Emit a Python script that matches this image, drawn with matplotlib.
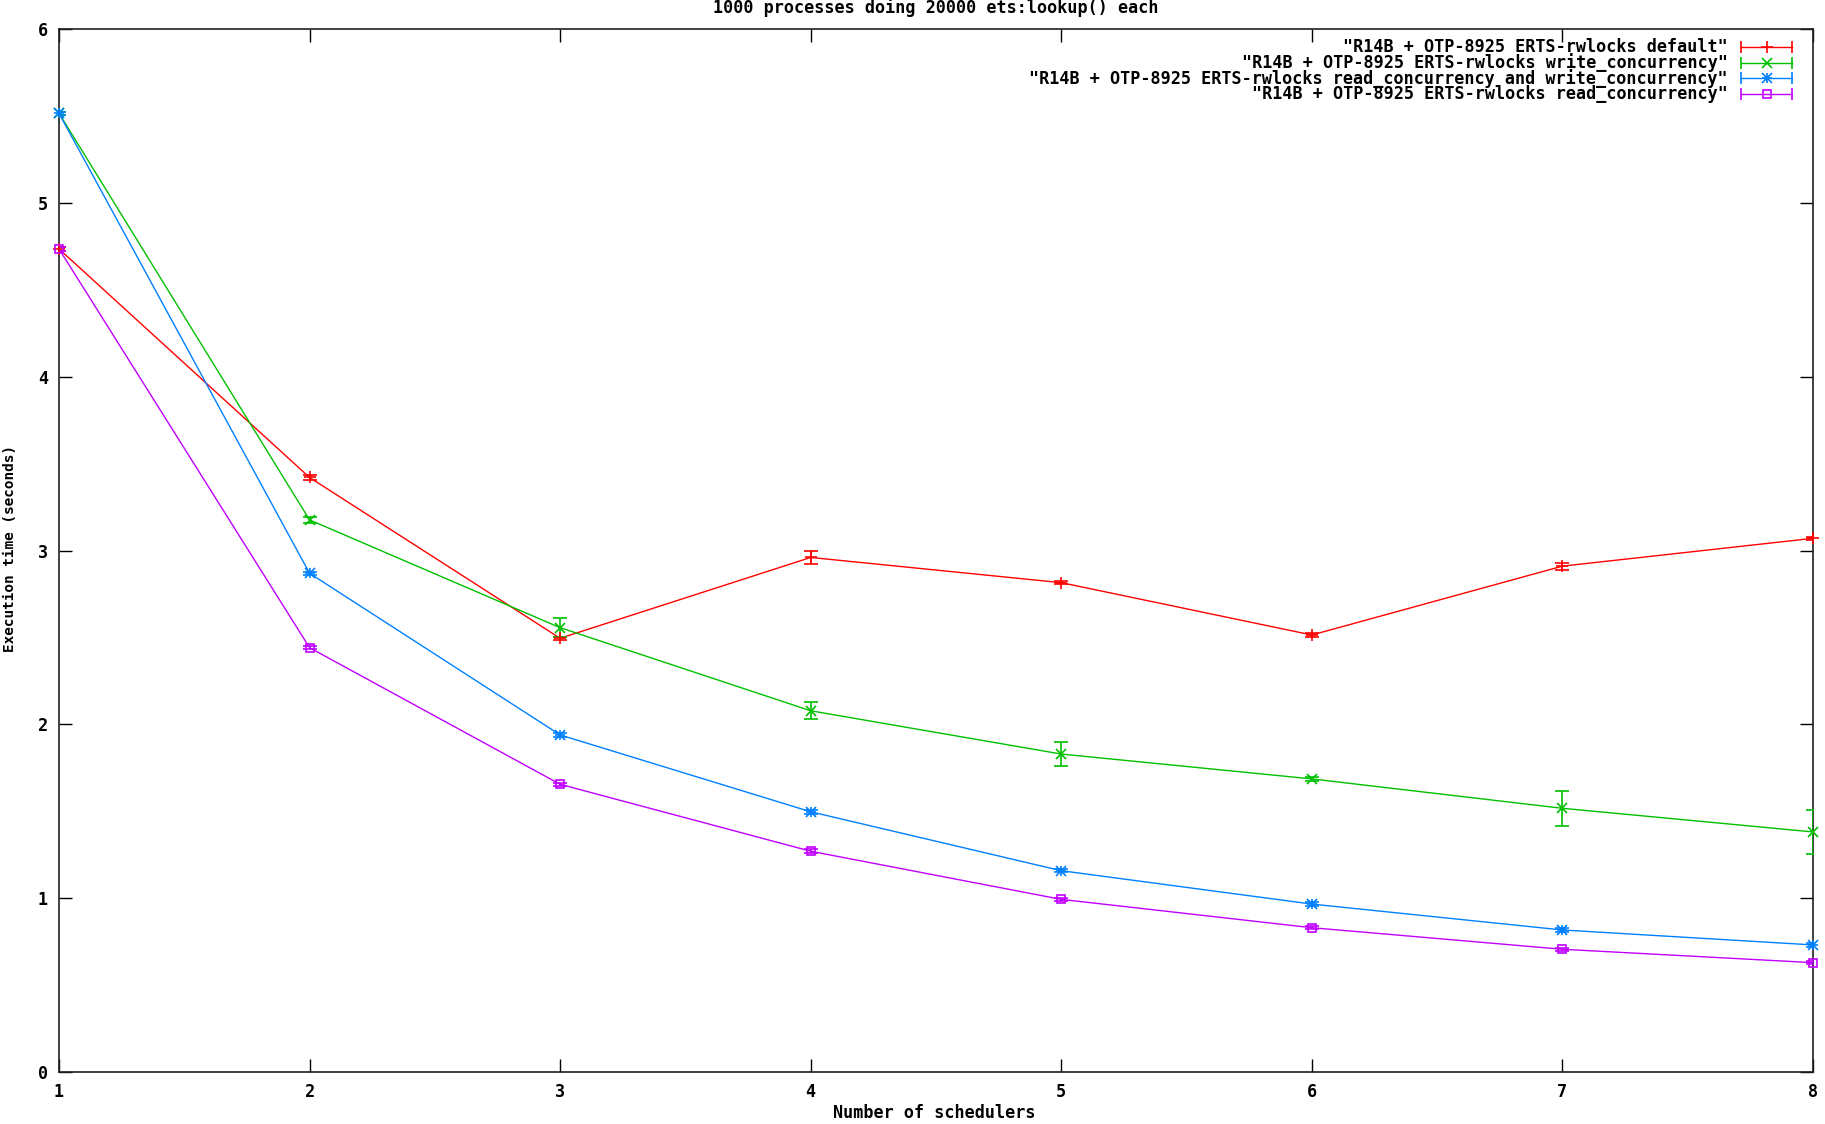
"""
Plot ets:lookup() execution time against scheduler count for the four
ERTS rwlock configurations, in the look of the original gnuplot output.
"""

import matplotlib

matplotlib.use("Agg")
import matplotlib.pyplot as plt

FONT = {"family": "DejaVu Sans Mono", "weight": "bold", "size": 12.1}
YLABEL_FONT = {"family": "DejaVu Sans Mono", "weight": "bold", "size": 10.4}

schedulers = [1, 2, 3, 4, 5, 6, 7, 8]

default_time = [4.735, 3.42, 2.495, 2.96, 2.815, 2.514, 2.91, 3.07]
default_err = [0.01, 0.015, 0.01, 0.04, 0.01, 0.01, 0.02, 0.01]

write_time = [5.515, 3.176, 2.556, 2.078, 1.829, 1.686, 1.517, 1.381]
write_err = [0.01, 0.015, 0.055, 0.05, 0.067, 0.01, 0.10, 0.127]

read_write_time = [5.515, 2.869, 1.939, 1.497, 1.158, 0.966, 0.817, 0.731]
read_write_err = [0.01, 0.01, 0.01, 0.01, 0.01, 0.01, 0.01, 0.01]

read_time = [4.735, 2.441, 1.655, 1.27, 0.993, 0.83, 0.706, 0.629]
read_err = [0.01, 0.01, 0.01, 0.01, 0.01, 0.01, 0.01, 0.01]

series_labels = [
    '"R14B + OTP-8925 ERTS-rwlocks default"',
    '"R14B + OTP-8925 ERTS-rwlocks write_concurrency"',
    '"R14B + OTP-8925 ERTS-rwlocks read_concurrency and write_concurrency"',
    '"R14B + OTP-8925 ERTS-rwlocks read_concurrency"',
]

y_ticks = [0, 1, 2, 3, 4, 5, 6]

# gnuplot default line colours / point types 1-4
STYLES = [
    {"color": "#ff0000", "markers": ["+"], "ms": 8, "mfc": None},
    {"color": "#00c000", "markers": ["x"], "ms": 7, "mfc": None},
    {"color": "#0080ff", "markers": ["+", "x"], "ms": 7, "mfc": None},
    {"color": "#c000ff", "markers": ["s"], "ms": 6, "mfc": "none"},
]

W, H = 1825, 1124
AX_L, AX_R, AX_T, AX_B = 59, 1813, 29, 1072


def draw_series(ax, x, y, err, style):
    color = style["color"]
    ax.errorbar(
        x, y, yerr=err, color=color, linewidth=1.0, elinewidth=1.2,
        capsize=5, capthick=1.2, fmt="none", zorder=3,
    )
    ax.plot(x, y, color=color, linewidth=1.0, zorder=3)
    for m in style["markers"]:
        ax.plot(
            x, y, linestyle="none", marker=m, markersize=style["ms"],
            markeredgewidth=1.2, markeredgecolor=color,
            markerfacecolor=style["mfc"] or color, zorder=4, clip_on=False,
        )


def draw_key(ax, labels, styles):
    # Key laid out like gnuplot: text right-aligned, sample to its right
    to_ax_x = lambda px: (px - AX_L) / (AX_R - AX_L)
    to_ax_y = lambda py: (AX_B - py) / (AX_B - AX_T)
    for i, (label, style) in enumerate(zip(labels, styles)):
        ypos = to_ax_y(47 + 15.7 * i)
        ax.text(to_ax_x(1728), ypos, label, transform=ax.transAxes,
                ha="right", va="center", fontdict=FONT)
        x0, x1 = to_ax_x(1741), to_ax_x(1792)
        color = style["color"]
        ax.plot([x0, x1], [ypos, ypos], color=color, linewidth=1.0,
                transform=ax.transAxes, clip_on=False)
        ax.plot([x0, x1], [ypos, ypos], linestyle="none", marker="|",
                markersize=9, markeredgewidth=1.2, color=color,
                transform=ax.transAxes, clip_on=False)
        for m in style["markers"]:
            ax.plot([(x0 + x1) / 2], [ypos], linestyle="none", marker=m,
                    markersize=style["ms"], markeredgewidth=1.2,
                    markeredgecolor=color,
                    markerfacecolor=style["mfc"] or color,
                    transform=ax.transAxes, clip_on=False)


def main():
    fig = plt.figure(figsize=(W / 100, H / 100), dpi=100)
    ax = fig.add_axes([
        AX_L / W, 1 - AX_B / H, (AX_R - AX_L) / W, (AX_B - AX_T) / H,
    ])

    data = [
        (default_time, default_err),
        (write_time, write_err),
        (read_write_time, read_write_err),
        (read_time, read_err),
    ]
    for (y, err), style in zip(data, STYLES):
        draw_series(ax, schedulers, y, err, style)

    ax.set_xlim(1, 8)
    ax.set_ylim(0, 6)
    ax.set_xticks(schedulers)
    ax.set_yticks(y_ticks)
    ax.tick_params(direction="in", length=9.5, width=1.0, top=True,
                   right=True)
    ax.tick_params(axis="x", pad=8)
    ax.tick_params(axis="y", pad=8)
    for lbl in ax.get_xticklabels() + ax.get_yticklabels():
        lbl.set_fontproperties(matplotlib.font_manager.FontProperties(**FONT))
    for spine in ax.spines.values():
        spine.set_linewidth(1.2)
        spine.set_color("#202020")

    fig.text(936 / W, 1 - 8 / H, "1000 processes doing 20000 ets:lookup() each",
             ha="center", va="center", fontdict=FONT)
    fig.text(934 / W, 1 - 1113 / H, "Number of schedulers",
             ha="center", va="center", fontdict=FONT)
    fig.text(10 / W, 1 - 548 / H, "Execution time (seconds)", rotation=90,
             ha="center", va="center", fontdict=YLABEL_FONT)

    draw_key(ax, series_labels, STYLES)

    fig.savefig("out.png", dpi=100)
    plt.close(fig)


if __name__ == "__main__":
    main()
